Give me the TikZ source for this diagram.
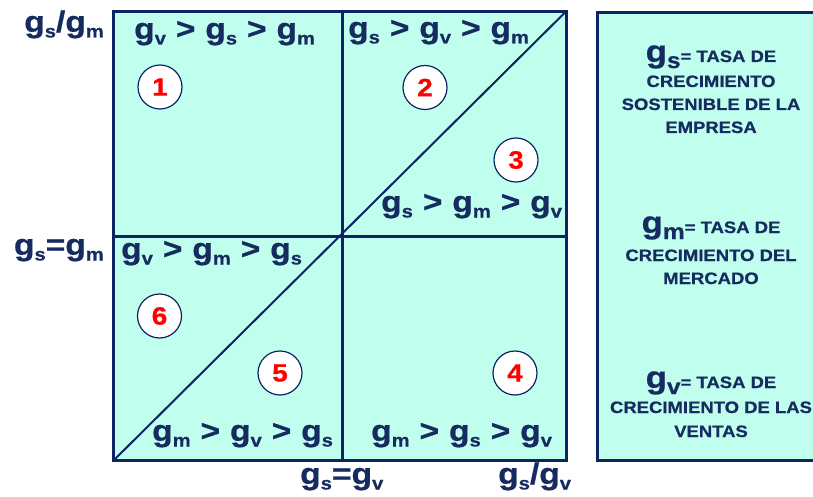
\documentclass[tikz,border=0pt]{standalone}
\usepackage{fontspec}
\setmainfont[FakeStretch=1.12,BoldFeatures={FakeBold=0.7}]{Liberation Sans}
\definecolor{navy}{RGB}{12,36,100}
\definecolor{txt}{RGB}{22,44,96}
\definecolor{cyanfill}{RGB}{192,255,238}
\newcommand\gX[1]{g\raisebox{-5.5pt}{\fontsize{18}{18}\selectfont #1}}
\newcommand\gtsep{\hspace{0.33em}>\hspace{0.33em}}
\newcommand\bigG[1]{{\fontsize{31}{31}\selectfont g}\raisebox{-6pt}{\fontsize{22}{22}\selectfont #1}}
\begin{document}
\begin{tikzpicture}[x=1pt,y=-1pt,
  lbl/.style={inner sep=0pt,anchor=base west,text=txt,font=\fontsize{30}{32}\selectfont\bfseries},
  lble/.style={lbl,anchor=base east},
  circ/.style={circle,draw=navy,line width=1.2pt,fill=white,minimum size=44pt,inner sep=0pt,text=red,font=\fontsize{25}{25}\selectfont\bfseries},
  rt/.style={inner sep=0pt,anchor=base,text=txt,font=\fontsize{16.5}{18}\selectfont\bfseries},
  frame/.style={draw=navy,line width=3pt}]
\useasboundingbox (0,0) rectangle (813,497);
\clip (0,0) rectangle (813,497);
% main square
\coordinate (TL) at (113.5,11.5);
\coordinate (TR) at (566,11.5);
\coordinate (BL) at (113.5,460.5);
\coordinate (BR) at (566,460.5);
\coordinate (MT) at (342,11.5);
\coordinate (MB) at (342,460.5);
\coordinate (ML) at (113.5,236);
\coordinate (MR) at (566,236);
\fill[cyanfill] (TL) rectangle (BR);
\draw[navy,line width=2pt] (BL) -- (TR);
\draw[frame] (MT) -- (MB);
\draw[frame] (ML) -- (MR);
\draw[frame] (TL) rectangle (BR);
% right box
\coordinate (RTL) at (597.5,13);
\coordinate (RBR) at (830,460.5);
\draw[frame,fill=cyanfill] (RTL) rectangle (RBR);
% quadrant labels
\node[lbl] (q1) at (134,39) {\gX{v}\gtsep\gX{s}\gtsep\gX{m}};
\node[lbl] (q2) at (348,38) {\gX{s}\gtsep\gX{v}\gtsep\gX{m}};
\node[lbl] (q3) at (381,212) {\gX{s}\gtsep\gX{m}\gtsep\gX{v}};
\node[lbl] (q6) at (121,259) {\gX{v}\gtsep\gX{m}\gtsep\gX{s}};
\node[lbl] (q5) at (152,441) {\gX{m}\gtsep\gX{v}\gtsep\gX{s}};
\node[lbl] (q4) at (371,441) {\gX{m}\gtsep\gX{s}\gtsep\gX{v}};
% axis labels
\node[lble] (a1) at (104,32) {\gX{s}/\gX{m}};
\node[lble] (a2) at (104,255) {\gX{s}=\gX{m}};
\node[lbl] (a3) at (300,484) {\gX{s}=\gX{v}};
\node[lbl] (a4) at (498,484) {\gX{s}/\gX{v}};
% circles
\node[circ] (c1) at (160,87) {1};
\node[circ] (c2) at (425,87.5) {2};
\node[circ] (c3) at (516,160) {3};
\node[circ] (c4) at (515,373) {4};
\node[circ] (c5) at (280,373) {5};
\node[circ] (c6) at (159.5,316) {6};
% legend
\node[rt] (l1a) at (711,62) {\bigG{s}= TASA DE};
\node[rt] (l1b) at (711,87) {CRECIMIENTO};
\node[rt] (l1c) at (711,110) {SOSTENIBLE DE LA};
\node[rt] (l1d) at (711,133) {EMPRESA};
\node[rt] (l2a) at (711,233) {\bigG{m}= TASA DE};
\node[rt] (l2b) at (711,261) {CRECIMIENTO DEL};
\node[rt] (l2c) at (711,284) {MERCADO};
\node[rt] (l3a) at (711,388) {\bigG{v}= TASA DE};
\node[rt] (l3b) at (711,413) {CRECIMIENTO DE LAS};
\node[rt] (l3c) at (711,437) {VENTAS};
\end{tikzpicture}
\end{document}
